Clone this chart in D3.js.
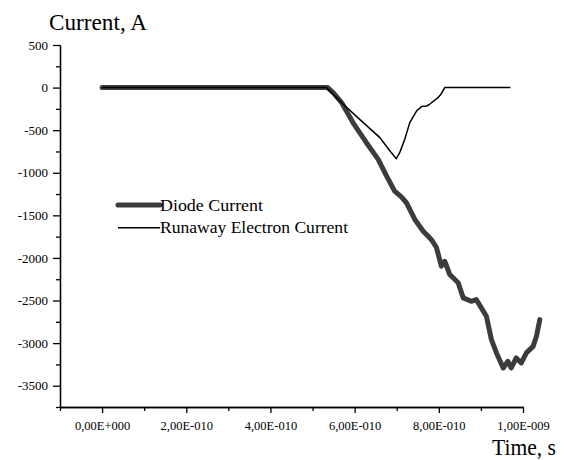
<!DOCTYPE html>
<html>
<head>
<meta charset="utf-8">
<script src="https://cdn.jsdelivr.net/npm/d3@7/dist/d3.min.js"></script>
<style>
  html, body { margin: 0; padding: 0; background: #fff; }
  svg { display: block; }
</style>
</head>
<body>
<svg id="chart" width="585" height="460"></svg>
<script>
// Diode current waveform (time in s, current in A)
const diodeTime = [
  0, 1.0e-10, 2.0e-10, 3.0e-10, 4.0e-10, 5.0e-10, 5.36e-10, 5.49e-10, 5.69e-10, 5.96e-10,
  6.28e-10, 6.56e-10, 6.76e-10, 6.95e-10, 7.11e-10, 7.23e-10, 7.43e-10, 7.63e-10,
  7.82e-10, 7.94e-10, 8.02e-10, 8.06e-10, 8.14e-10, 8.18e-10, 8.26e-10, 8.46e-10,
  8.58e-10, 8.77e-10, 8.89e-10, 9.01e-10, 9.13e-10, 9.25e-10, 9.37e-10, 9.53e-10,
  9.64e-10, 9.72e-10, 9.84e-10, 9.96e-10, 1.008e-9, 1.024e-9, 1.032e-9, 1.040e-9
];
const diodeCurrent = [
  0, 0, 0, 0, 0, 0, 0, -59, -176, -411,
  -647, -843, -1039, -1216, -1284, -1352, -1548, -1686,
  -1783, -1872, -2019, -2097, -2039, -2089, -2195, -2292,
  -2469, -2509, -2489, -2586, -2685, -2959, -3115, -3292,
  -3214, -3292, -3174, -3233, -3115, -3038, -2920, -2724
];

// Runaway electron current waveform
const runawayTime = [
  0, 2.0e-10, 4.0e-10, 5.33e-10, 5.73e-10, 6.12e-10, 6.60e-10, 6.84e-10, 6.99e-10,
  7.07e-10, 7.19e-10, 7.31e-10, 7.47e-10, 7.59e-10, 7.71e-10, 7.78e-10, 7.98e-10,
  8.05e-10, 8.14e-10, 9.0e-10, 9.70e-10
];
const runawayCurrent = [
  0, 0, 0, 0, -196, -373, -588, -745, -835,
  -764, -608, -411, -275, -223, -216, -196, -118,
  -79, 0, 0, 0
];

// Axis ticks
const xMajorTicks = [0, 2e-10, 4e-10, 6e-10, 8e-10, 1e-9];
const xMinorTicks = [-1e-10, 1e-10, 3e-10, 5e-10, 7e-10, 9e-10];
const yMajorTicks = [500, 0, -500, -1000, -1500, -2000, -2500, -3000, -3500];
const yMinorTicks = [250, -250, -750, -1250, -1750, -2250, -2750, -3250, -3750];

const seriesNames = ["Diode Current", "Runaway Electron Current"];

const FONT = '"Liberation Serif", "Times New Roman", serif';

const svg = d3.select("#chart");

const x = d3.scaleLinear().domain([-1e-10, 1e-9]).range([60, 523]);
const y = d3.scaleLinear().domain([-3750, 500]).range([407, 45]);

// "2,00E-010" style labels
function sciLabel(v) {
  const s = v.toExponential(2);
  const [m, e] = s.split("e");
  const sign = e[0] === "-" ? "-" : "+";
  const digits = e.replace(/[+-]/, "").padStart(3, "0");
  return m.replace(".", ",") + "E" + sign + digits;
}

// x axis: labelled major ticks plus unlabelled minor ticks
const xAxis = svg.append("g").attr("transform", `translate(0,${y(-3750)})`)
  .call(d3.axisBottom(x).tickValues(xMajorTicks).tickSize(6).tickSizeOuter(0).tickPadding(8).tickFormat(sciLabel));
svg.append("g").attr("transform", `translate(0,${y(-3750)})`)
  .call(d3.axisBottom(x).tickValues(xMinorTicks).tickSize(4).tickSizeOuter(0).tickFormat(""));
xAxis.attr("font-family", FONT).attr("font-size", 12.5);

// y axis
const yAxis = svg.append("g").attr("transform", `translate(${x(-1e-10)},0)`)
  .call(d3.axisLeft(y).tickValues(yMajorTicks).tickSize(7).tickSizeOuter(0).tickPadding(5).tickFormat(d => String(d)));
svg.append("g").attr("transform", `translate(${x(-1e-10)},0)`)
  .call(d3.axisLeft(y).tickValues(yMinorTicks).tickSize(4).tickSizeOuter(0).tickFormat(""));
yAxis.attr("font-family", FONT).attr("font-size", 13);

svg.selectAll(".domain, .tick line").attr("stroke", "#000").attr("stroke-width", 1.3);

// curves
const line = d3.line().x(d => x(d[0])).y(d => y(d[1]));

svg.append("path")
  .datum(diodeTime.map((t, i) => [t, diodeCurrent[i]]))
  .attr("d", line)
  .attr("fill", "none")
  .attr("stroke", "#3c3c3c")
  .attr("stroke-width", 5)
  .attr("stroke-linejoin", "round")
  .attr("stroke-linecap", "round");

svg.append("path")
  .datum(runawayTime.map((t, i) => [t, runawayCurrent[i]]))
  .attr("d", line)
  .attr("fill", "none")
  .attr("stroke", "#000")
  .attr("stroke-width", 1.5)
  .attr("stroke-linejoin", "round");

// axis titles
svg.append("text").attr("x", 49).attr("y", 30)
  .attr("font-family", FONT).attr("font-size", 24)
  .attr("textLength", 98).attr("lengthAdjust", "spacingAndGlyphs")
  .text("Current, A");
svg.append("text").attr("x", 492).attr("y", 455)
  .attr("font-family", FONT).attr("font-size", 24)
  .attr("textLength", 64).attr("lengthAdjust", "spacingAndGlyphs")
  .text("Time, s");

// legend
const legend = svg.append("g").attr("font-family", FONT).attr("font-size", 16);
const rows = [
  { name: seriesNames[0], y: 205, stroke: "#3c3c3c", width: 5, len: 103 },
  { name: seriesNames[1], y: 227.7, stroke: "#000", width: 1.5, len: 188 }
];
rows.forEach(r => {
  legend.append("line")
    .attr("x1", 118).attr("x2", 160).attr("y1", r.y).attr("y2", r.y)
    .attr("stroke", r.stroke).attr("stroke-width", r.width)
    .attr("stroke-linecap", r.width > 2 ? "round" : "butt");
  legend.append("text").attr("x", 160).attr("y", r.y + 5.7)
    .attr("textLength", r.len).attr("lengthAdjust", "spacingAndGlyphs")
    .text(r.name);
});
</script>
</body>
</html>
